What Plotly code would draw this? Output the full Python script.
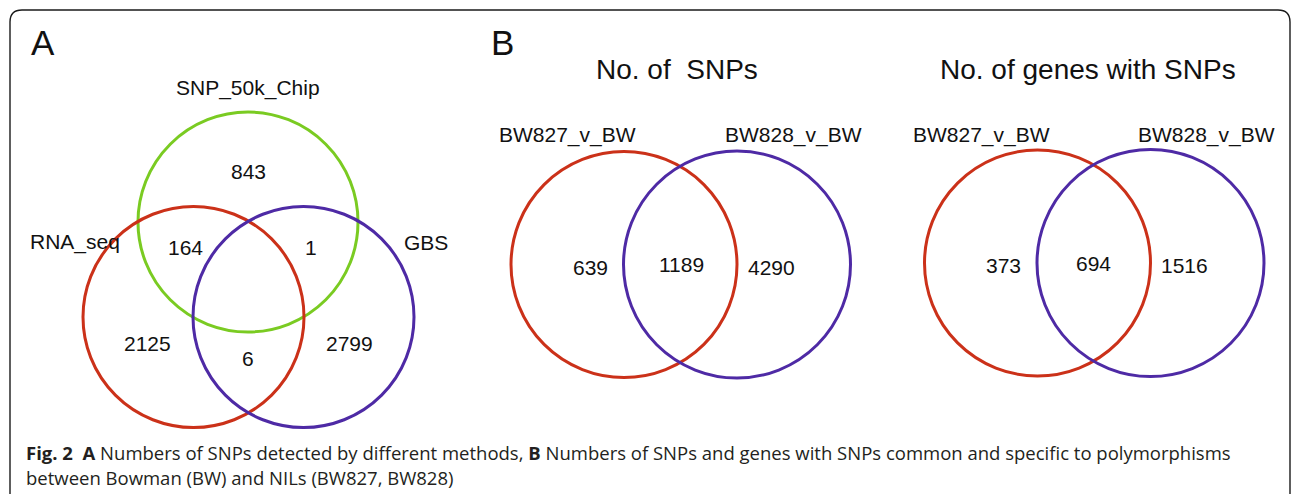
import plotly.graph_objects as go

# ---------------- data ----------------
# Panel A: three-set Venn (SNP detection methods)
setsA = ["SNP_50k_Chip", "RNA_seq", "GBS"]
regionsA = ["Chip only", "RNA&Chip", "Chip&GBS", "RNA only", "RNA&GBS", "GBS only"]
countsA = [843, 164, 1, 2125, 6, 2799]

# Panel B: two-set Venns
setsB = ["BW827_v_BW", "BW828_v_BW"]
titlesB = ["No. of&nbsp;&nbsp;SNPs", "No. of genes with SNPs"]
snp_counts = [639, 1189, 4290]
gene_counts = [373, 694, 1516]

caption1 = ("<b>Fig. 2</b>&nbsp;&nbsp;<b>A</b> Numbers of SNPs detected by different methods, "
            "<b>B</b> Numbers of SNPs and genes with SNPs common and specific to polymorphisms")
caption2 = "between Bowman (BW) and NILs (BW827, BW828)"

# ---------------- layout / style ----------------
W, H = 1293, 494
RED, GREEN, PURPLE = "#cb3119", "#7acb22", "#4e2aa5"
VFONT = "Liberation Sans, Arial, sans-serif"
CFONT = "Open Sans, Noto Sans, sans-serif"

circA = [(248, 222, 110, GREEN), (193.5, 317, 110.5, RED), (303.5, 317, 110.5, PURPLE)]
labA_pos = [(248, 88, "center"), (28, 242, "left"), (402, 242, "left")]
cntA_pos = [(248, 171), (185, 247), (311, 247), (147, 343), (248, 358), (349, 343)]

panelsB = [
    dict(title_xy=(677, 69), lab_xy=[(567.5, 135), (793, 135)],
         circ=[(624, 264.5, 113, RED), (737, 264.5, 113.5, PURPLE)],
         cnt_xy=[(590, 267), (681, 264), (771, 267)], counts=snp_counts),
    dict(title_xy=(1087.5, 69), lab_xy=[(981, 135), (1206, 135)],
         circ=[(1037.5, 263, 113, RED), (1150.5, 263, 113.5, PURPLE)],
         cnt_xy=[(1003, 265), (1093, 263), (1184, 265)], counts=gene_counts),
]

fig = go.Figure()
shapes, ann = [], []

def circle(cx, cy, r, color):
    shapes.append(dict(type="circle", xref="x", yref="y", x0=cx - r, x1=cx + r,
                       y0=cy - r, y1=cy + r, line=dict(color=color, width=3)))

def text(x, y, s, size, xanchor="center", font=VFONT, color="#111111"):
    ann.append(dict(x=x, y=y, xref="x", yref="y", text=s, showarrow=False,
                    xanchor=xanchor, yanchor="middle",
                    font=dict(family=font, size=size, color=color)))

# frame with rounded corners
r = 12
x0, x1, y0, y1 = 10, 1290, 10, 506
path = (f"M {x0+r},{y0} L {x1-r},{y0} Q {x1},{y0} {x1},{y0+r} L {x1},{y1-r} "
        f"Q {x1},{y1} {x1-r},{y1} L {x0+r},{y1} Q {x0},{y1} {x0},{y1-r} "
        f"L {x0},{y0+r} Q {x0},{y0} {x0+r},{y0} Z")
shapes.append(dict(type="path", path=path, xref="x", yref="y",
                   line=dict(color="#1a1a1a", width=1.4)))

# Panel A
text(43, 42, "A", 35)
for (cx, cy, rr, col) in circA:
    circle(cx, cy, rr, col)
for name, (x, y, anc) in zip(setsA, labA_pos):
    text(x, y, name, 21, xanchor=anc)
for c, (x, y) in zip(countsA, cntA_pos):
    text(x, y, str(c), 21)

# Panel B
text(502, 42, "B", 35)
for p, title in zip(panelsB, titlesB):
    text(p["title_xy"][0], p["title_xy"][1], title, 28)
    for name, (x, y) in zip(setsB, p["lab_xy"]):
        text(x, y, name, 21)
    for (cx, cy, rr, col) in p["circ"]:
        circle(cx, cy, rr, col)
    for c, (x, y) in zip(p["counts"], p["cnt_xy"]):
        text(x, y, str(c), 21)

# caption
text(24, 452, caption1, 18.5, xanchor="left", font=CFONT, color="#231f20")
text(24, 477, caption2, 18.5, xanchor="left", font=CFONT, color="#231f20")

fig.update_layout(
    width=W, height=H, margin=dict(l=0, r=0, t=0, b=0),
    paper_bgcolor="white", plot_bgcolor="white",
    xaxis=dict(range=[0, W], visible=False, fixedrange=True),
    yaxis=dict(range=[H, 0], visible=False, fixedrange=True),
    shapes=shapes, annotations=ann, showlegend=False,
)
fig.write_html("out.html")
